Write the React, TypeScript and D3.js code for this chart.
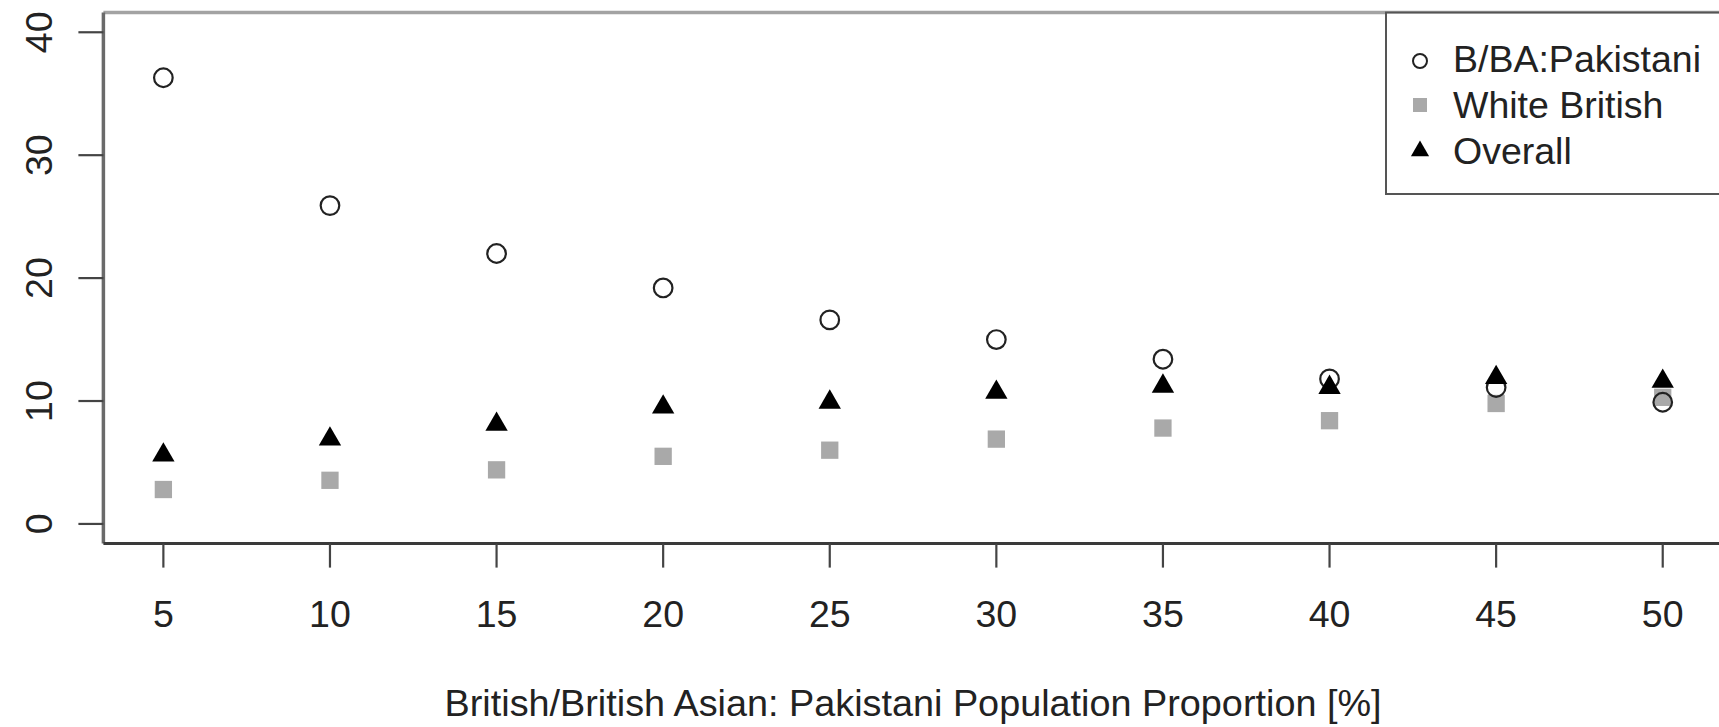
import React from "react";
import * as d3 from "d3";

// Population proportion bins (x values)
const proportions = [5, 10, 15, 20, 25, 30, 35, 40, 45, 50];
// Series values per bin
const pakistaniValues = [36.3, 25.9, 22.0, 19.2, 16.6, 15.0, 13.4, 11.8, 11.1, 9.9];
const whiteBritishValues = [2.8, 3.55, 4.4, 5.5, 6.0, 6.9, 7.8, 8.4, 9.8, 10.3];
const overallValues = [5.6, 6.9, 8.1, 9.5, 9.9, 10.7, 11.2, 11.1, 11.9, 11.6];
// Axis ticks and labels
const xTicks = [5, 10, 15, 20, 25, 30, 35, 40, 45, 50];
const yTicks = [0, 10, 20, 30, 40];
const xAxisTitle = "British/British Asian: Pakistani Population Proportion [%]";
const legendLabels = ["B/BA:Pakistani", "White British", "Overall"];

const W = 1719;
const H = 727;
const FONT = "'Liberation Sans', Arial, Helvetica, sans-serif";

export default function App() {
  // R-style 4% padded ranges
  const x = d3.scaleLinear().domain([3.2, 51.8]).range([103.4, 1722.7]);
  const y = d3.scaleLinear().domain([-1.6, 41.6]).range([543.6, 12.6]);

  const left = x(3.2);
  const right = x(51.8);
  const top = y(41.6);
  const bottom = y(-1.6);

  const tri = (r: number) =>
    `M0,${-r}L${r * 0.866},${r / 2}L${-r * 0.866},${r / 2}Z`;

  const sq = 17.3;
  const circR = 9.3;
  const triR = 12.9;

  const legendLeft = 1386;
  const legendBottom = 194;
  const legendSymX = 1420;
  const legendTextX = 1453;
  const legendRows = [72, 118, 164];

  return (
    <svg
      width={W}
      height={H}
      style={{ position: "absolute", left: 0, top: 0, background: "#fff" }}
      fontFamily={FONT}
    >
      <rect x={0} y={0} width={W} height={H} fill="#fff" />

      {/* White British squares */}
      {proportions.map((p, i) => (
        <rect
          key={"wb" + i}
          x={x(p) - sq / 2}
          y={y(whiteBritishValues[i]) - sq / 2}
          width={sq}
          height={sq}
          fill="#a9a9a9"
        />
      ))}
      {/* B/BA:Pakistani open circles */}
      {proportions.map((p, i) => (
        <circle
          key={"pk" + i}
          cx={x(p)}
          cy={y(pakistaniValues[i])}
          r={circR}
          fill="none"
          stroke="#222"
          strokeWidth={2.2}
        />
      ))}
      {/* Overall filled triangles */}
      {proportions.map((p, i) => (
        <path
          key={"ov" + i}
          d={tri(triR)}
          transform={`translate(${x(p)},${y(overallValues[i])})`}
          fill="#000"
        />
      ))}

      {/* Plot box */}
      <line x1={left} x2={right} y1={top} y2={top} stroke="#a3a3a3" strokeWidth={3.5} />
      <line x1={left} x2={left} y1={top} y2={bottom} stroke="#6a6a6a" strokeWidth={3.5} />
      <line x1={left} x2={right} y1={bottom} y2={bottom} stroke="#3a3a3a" strokeWidth={3} />
      <line x1={right} x2={right} y1={top} y2={bottom} stroke="#3a3a3a" strokeWidth={3} />

      {/* Y axis ticks and labels */}
      {yTicks.map((t) => (
        <g key={"yt" + t}>
          <line x1={left - 25} x2={left} y1={y(t)} y2={y(t)} stroke="#444" strokeWidth={2.2} />
          <text
            transform={`translate(52,${y(t)}) rotate(-90)`}
            textAnchor="middle"
            fontSize={37.5}
            fill="#222"
          >
            {t}
          </text>
        </g>
      ))}

      {/* X axis ticks and labels */}
      {xTicks.map((t) => (
        <g key={"xt" + t}>
          <line x1={x(t)} x2={x(t)} y1={bottom} y2={bottom + 24} stroke="#444" strokeWidth={2.2} />
          <text x={x(t)} y={627} textAnchor="middle" fontSize={37.5} fill="#222">
            {t}
          </text>
        </g>
      ))}

      {/* X axis title */}
      <text
        x={(left + right) / 2}
        y={716}
        textAnchor="middle"
        fontSize={37.8}
        fill="#222"
      >
        {xAxisTitle}
      </text>

      {/* Legend */}
      <rect
        x={legendLeft}
        y={top}
        width={right - legendLeft}
        height={legendBottom - top}
        fill="#fff"
        stroke="#555"
        strokeWidth={2}
      />
      <circle cx={legendSymX} cy={legendRows[0] - 11} r={7} fill="none" stroke="#222" strokeWidth={2} />
      <rect x={legendSymX - 7} y={legendRows[1] - 13 - 7} width={14} height={14} fill="#a9a9a9" />
      <path d={tri(10.5)} transform={`translate(${legendSymX},${legendRows[2] - 13})`} fill="#000" />
      {legendLabels.map((l, i) => (
        <text key={l} x={legendTextX} y={legendRows[i]} fontSize={37.5} fill="#222">
          {l}
        </text>
      ))}
    </svg>
  );
}
